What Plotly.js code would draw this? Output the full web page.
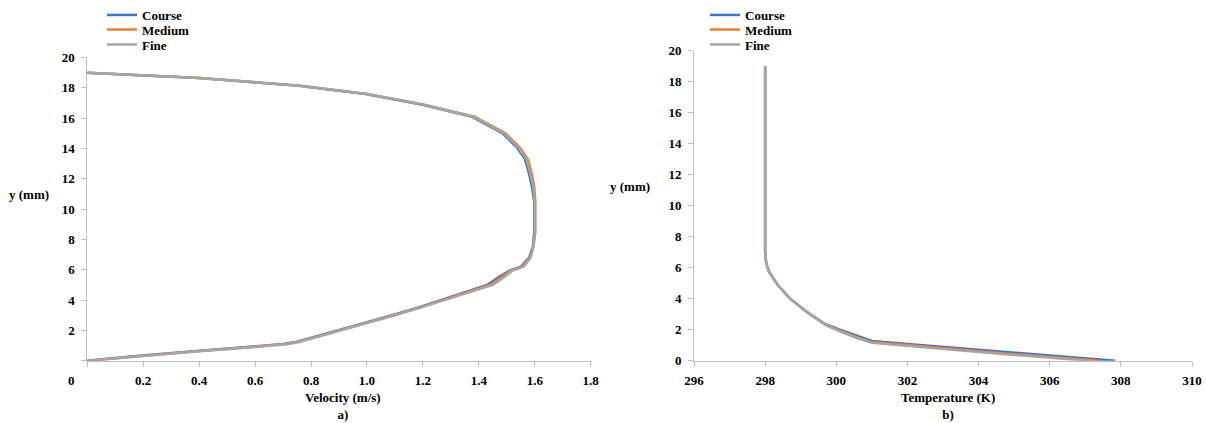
<!DOCTYPE html>
<html>
<head>
<meta charset="utf-8">
<script src="https://cdn.plot.ly/plotly-3.0.1.min.js"></script>
<style>html,body{margin:0;padding:0;background:#fff;}#chart{width:1206px;height:423px;}</style>
</head>
<body>
<div id="chart"></div>
<script>
// ---- Data ----
const seriesNames = ['Course', 'Medium', 'Fine'];
const seriesColors = ['#4472C4', '#ED7D31', '#A5A5A5'];

// a) velocity profile: y (mm) positions and velocity (m/s)
const velY = [0, 0.33, 0.62, 0.9, 1.1, 1.25, 1.45, 1.95, 2.45, 3.0, 3.55, 4.15, 4.75, 5.0, 5.5, 5.95, 6.2, 6.8, 7.5, 8.5, 10.5, 11.5, 12.3, 13.3, 14.1, 15.0, 16.1, 16.9, 17.6, 18.15, 18.65, 18.93, 19.0];
const velCourse = [0, 0.185, 0.38, 0.575, 0.70, 0.75, 0.79, 0.89, 0.99, 1.09, 1.19, 1.29, 1.39, 1.43, 1.47, 1.51, 1.55, 1.58, 1.593, 1.598, 1.598, 1.59, 1.58, 1.565, 1.535, 1.485, 1.375, 1.195, 0.995, 0.755, 0.40, 0.10, 0];
const velMedium = [0, 0.193, 0.39, 0.588, 0.71, 0.755, 0.795, 0.895, 0.995, 1.095, 1.195, 1.295, 1.395, 1.44, 1.48, 1.515, 1.555, 1.583, 1.595, 1.602, 1.602, 1.598, 1.59, 1.575, 1.545, 1.495, 1.385, 1.20, 1.0, 0.76, 0.40, 0.10, 0];
const velFine = [0, 0.20, 0.40, 0.60, 0.72, 0.76, 0.80, 0.90, 1.0, 1.10, 1.20, 1.30, 1.40, 1.45, 1.49, 1.52, 1.56, 1.585, 1.595, 1.60, 1.60, 1.595, 1.585, 1.57, 1.54, 1.49, 1.38, 1.20, 1.0, 0.76, 0.40, 0.10, 0];

// b) temperature profile: temperature (K) and y (mm)
const tempCourse = [298.0, 298.0, 298.03, 298.12, 298.35, 298.7, 299.2, 299.7, 300.1, 300.6, 301.0, 302.0, 303.0, 305.0, 307.84];
const tempCourseY = [19.0, 7.0, 6.3, 5.7, 4.9, 4.0, 3.1, 2.35, 2.0, 1.6, 1.27, 1.07, 0.88, 0.50, 0];
const tempMedium = [298.0, 298.0, 298.03, 298.12, 298.35, 298.7, 299.2, 299.7, 300.1, 300.6, 301.0, 302.0, 303.0, 305.0, 307.4];
const tempMediumY = [19.0, 7.0, 6.3, 5.7, 4.9, 4.0, 3.1, 2.32, 1.95, 1.5, 1.2, 1.0, 0.78, 0.42, 0];
const tempFine = [298.0, 298.0, 298.03, 298.12, 298.35, 298.7, 299.2, 299.7, 300.1, 300.6, 301.0, 302.0, 303.0, 305.0, 307.1];
const tempFineY = [19.0, 7.0, 6.3, 5.7, 4.9, 4.0, 3.1, 2.3, 1.9, 1.45, 1.15, 0.95, 0.72, 0.37, 0];

// tick labels
const velTicks = [0, 0.2, 0.4, 0.6, 0.8, 1.0, 1.2, 1.4, 1.6, 1.8];
const velTickText = ['', '0.2', '0.4', '0.6', '0.8', '1.0', '1.2', '1.4', '1.6', '1.8'];
const yTicks = [0, 2, 4, 6, 8, 10, 12, 14, 16, 18, 20];
const yTickTextA = ['', '2', '4', '6', '8', '10', '12', '14', '16', '18', '20'];
const yTickTextB = ['0', '2', '4', '6', '8', '10', '12', '14', '16', '18', '20'];
const tempTicks = [296, 298, 300, 302, 304, 306, 308, 310];

const W = 1206, H = 423;
const px = v => v / W, py = v => (H - v) / H;
const FAM = '"Liberation Serif", "Times New Roman", Times, serif';
const F = {family: FAM, size: 13, color: '#000', weight: 'bold'};

// ---- Traces (each series gets its own legend box so entries can be stacked tightly) ----
const velX = [velCourse, velMedium, velFine];
const tX = [tempCourse, tempMedium, tempFine];
const tY = [tempCourseY, tempMediumY, tempFineY];
const traces = [];
const legendIds = ['legend', 'legend2', 'legend3', 'legend4', 'legend5', 'legend6'];
for (let i = 0; i < 3; i++) {
  traces.push({x: velX[i], y: velY, xaxis: 'x', yaxis: 'y', mode: 'lines', name: seriesNames[i],
    line: {color: seriesColors[i], width: 2.5}, legend: legendIds[i]});
}
for (let i = 0; i < 3; i++) {
  traces.push({x: tX[i], y: tY[i], xaxis: 'x2', yaxis: 'y2', mode: 'lines', name: seriesNames[i],
    line: {color: seriesColors[i], width: 2.5}, legend: legendIds[3 + i]});
}

const axCommon = {showline: true, linecolor: '#bfbfbf', linewidth: 1, ticks: 'outside', ticklen: 5,
  tickcolor: '#bfbfbf', tickwidth: 1, showgrid: false, zeroline: false, tickfont: F, fixedrange: true};

const layout = {
  width: W, height: H, margin: {l: 0, r: 0, t: 0, b: 0},
  paper_bgcolor: '#fff', plot_bgcolor: '#fff', showlegend: true,
  font: F,
  xaxis: Object.assign({}, axCommon, {domain: [px(87.3), px(590.7)], range: [0, 1.8], tickmode: 'array',
    tickvals: velTicks, ticktext: velTickText, anchor: 'y', ticklabelstandoff: 3}),
  yaxis: Object.assign({}, axCommon, {domain: [py(360.7), py(57.6)], range: [0, 20], tickmode: 'array',
    tickvals: yTicks, ticktext: yTickTextA, anchor: 'x', ticklabelstandoff: 4}),
  xaxis2: Object.assign({}, axCommon, {domain: [px(694), px(1192)], range: [296, 310], tickmode: 'array',
    tickvals: tempTicks, anchor: 'y2', ticklabelstandoff: 3}),
  yaxis2: Object.assign({}, axCommon, {domain: [py(360.7), py(50.7)], range: [0, 20], tickmode: 'array',
    tickvals: yTicks, ticktext: yTickTextB, anchor: 'x2', ticklabelstandoff: 4}),
  annotations: [
    {text: 'Velocity (m/s)<br>a)', xref: 'paper', yref: 'paper', x: px(343), y: py(422.5), showarrow: false, font: F, xanchor: 'center', yanchor: 'bottom', borderpad: 0},
    {text: 'Temperature (K)<br>b)', xref: 'paper', yref: 'paper', x: px(948), y: py(422.5), showarrow: false, font: F, xanchor: 'center', yanchor: 'bottom', borderpad: 0},
    {text: 'y (mm)', xref: 'paper', yref: 'paper', x: px(29), y: py(194.3), showarrow: false, font: F, xanchor: 'center', yanchor: 'middle'},
    {text: 'y (mm)', xref: 'paper', yref: 'paper', x: px(630), y: py(186), showarrow: false, font: F, xanchor: 'center', yanchor: 'middle'},
    {text: '0', xref: 'paper', yref: 'paper', x: px(71), y: py(380), showarrow: false, font: F, xanchor: 'center', yanchor: 'middle'}
  ]
};
const legX = [102, 705];
for (let k = 0; k < 6; k++) {
  const side = Math.floor(k / 3), row = k % 3;
  layout[legendIds[k]] = {x: px(legX[side]), xanchor: 'left', y: py(15 * row - 0.5), yanchor: 'top',
    font: F, bgcolor: 'rgba(0,0,0,0)', borderwidth: 0};
}

Plotly.newPlot('chart', traces, layout, {displayModeBar: false, staticPlot: true});
</script>
</body>
</html>
